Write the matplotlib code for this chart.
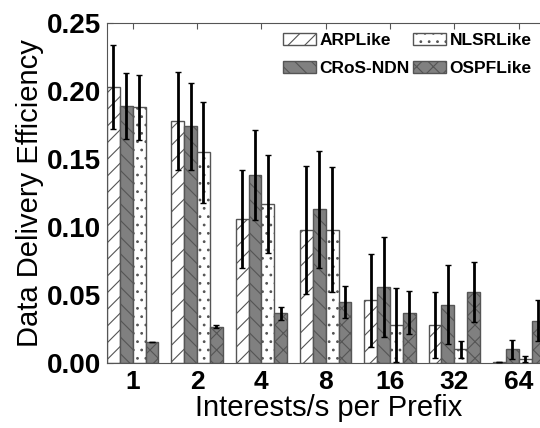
import matplotlib
matplotlib.use("Agg")
import matplotlib.pyplot as plt
import numpy as np

plt.rcParams['hatch.linewidth'] = 0.8
plt.rcParams['font.family'] = ['Liberation Sans', 'DejaVu Sans']

categories = ["1", "2", "4", "8", "16", "32", "64"]
series = ["ARPLike", "CRoS-NDN", "NLSRLike", "OSPFLike"]
arplike = [0.203, 0.178, 0.106, 0.098, 0.046, 0.028, 0.0005]
arplike_err = [0.031, 0.036, 0.036, 0.047, 0.034, 0.024, 0.0]
crosndn = [0.189, 0.174, 0.138, 0.113, 0.056, 0.043, 0.010]
crosndn_err = [0.024, 0.032, 0.033, 0.043, 0.037, 0.029, 0.007]
nlsrlike = [0.188, 0.155, 0.117, 0.098, 0.028, 0.010, 0.003]
nlsrlike_err = [0.024, 0.037, 0.036, 0.046, 0.027, 0.006, 0.002]
ospflike = [0.0157, 0.0267, 0.0365, 0.0448, 0.037, 0.052, 0.031]
ospflike_err = [0.0, 0.001, 0.005, 0.012, 0.016, 0.022, 0.015]
yticks = [0.00, 0.05, 0.10, 0.15, 0.20, 0.25]

values = [arplike, crosndn, nlsrlike, ospflike]
errors = [arplike_err, crosndn_err, nlsrlike_err, ospflike_err]
fills = ["white", "#808080", "white", "#808080"]
hatches = ["//", "\\\\", "..", "xx"]

fig = plt.figure(figsize=(5.4, 4.28), dpi=100)
ax = fig.add_axes([107/540, 65/428, 1.02 - 107/540, (363-23)/428])

x = np.arange(1, len(categories) + 1)
w = 0.2
for i, (vals, errs) in enumerate(zip(values, errors)):
    pos = x - 0.3 + i * w
    ax.bar(pos, vals, w, color=fills[i], edgecolor="#555555", hatch=hatches[i],
           linewidth=1.0, label=series[i], zorder=2)
    ax.errorbar(pos, vals, yerr=errs, fmt="none", ecolor="black", elinewidth=2,
                capsize=2.5, capthick=1, zorder=3)

ax.set_xlim(0.6, 7.5)
ax.set_ylim(0, 0.25)
ax.set_xticks(x)
ax.set_xticklabels(categories, fontsize=19, fontweight="bold")
ax.set_yticks(yticks)
ax.set_yticklabels([f"{t:.2f}" for t in yticks], fontsize=20, fontweight="bold")
ax.tick_params(direction="in", top=True, right=False, length=4, color="#555555")
ax.tick_params(axis="y", pad=4)
ax.tick_params(axis="x", pad=5)
for s in ax.spines.values():
    s.set_color("#555555")
ax.set_xlabel("Interests/s per Prefix", fontsize=21, labelpad=0)
ax.set_ylabel("Data Delivery Efficiency", fontsize=21, labelpad=2)

leg = ax.legend(ncol=2, loc="upper left", bbox_to_anchor=(283/540, (428-33)/428),
                bbox_transform=fig.transFigure,
                frameon=False, prop={"weight": "bold", "size": 12.5},
                handlelength=1.9, handleheight=0.68, columnspacing=0.2,
                handletextpad=0.2, labelspacing=0.75, borderaxespad=0, borderpad=0)

fig.savefig("out.png", dpi=100)
